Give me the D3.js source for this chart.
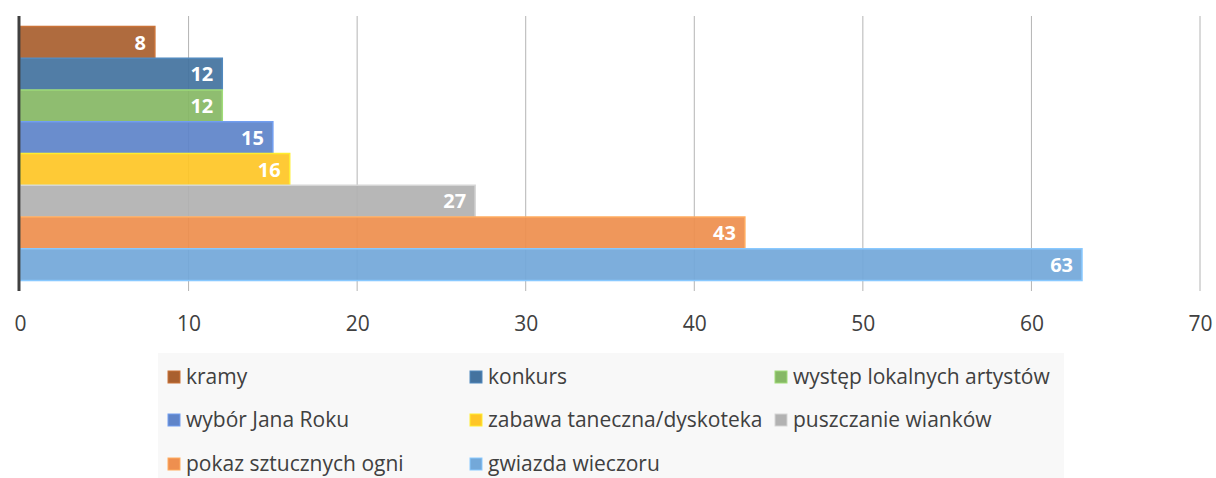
<!DOCTYPE html>
<html>
<head>
<meta charset="utf-8">
<script src="https://cdn.jsdelivr.net/npm/d3@7"></script>
<style>
  body { margin: 0; background: #fff; }
  svg text { font-family: "Open Sans", sans-serif; }
</style>
</head>
<body>
<script>
// data
const categories = ['kramy', 'konkurs', 'występ lokalnych artystów', 'wybór Jana Roku',
    'zabawa taneczna/dyskoteka', 'puszczanie wianków', 'pokaz sztucznych ogni', 'gwiazda wieczoru']
const values = [8, 12, 12, 15, 16, 27, 43, 63]
const colors = ['#a9602f', '#44739f', '#86b865', '#5f84c9', '#fec627', '#b2b2b2', '#ee8f4f', '#73a8d9']
const ticks = [0, 10, 20, 30, 40, 50, 60, 70]

const width = 1216, height = 478
const svg = d3.select('body').append('svg')
    .attr('width', width)
    .attr('height', height)

let x = d3.scaleLinear().domain([0, 70]).range([20, 1200])
let y = d3.scaleBand().domain(categories).range([16, 291]).paddingOuter(0.33).paddingInner(0)

// gridlines
svg.append('g').selectAll('line')
    .data(ticks.slice(1)).enter()
    .append('line')
    .attr('x1', d => x(d)).attr('x2', d => x(d))
    .attr('y1', 16).attr('y2', 291)
    .attr('stroke', '#b4b4b4')
    .attr('stroke-width', 1)

// bars
svg.append('g').selectAll('rect')
    .data(values).enter()
    .append('rect')
    .attr('x', x(0))
    .attr('y', (d, i) => y(categories[i]))
    .attr('width', d => x(d) - x(0))
    .attr('height', y.bandwidth())
    .attr('fill', (d, i) => colors[i])
    .attr('fill-opacity', 0.93)
    .attr('stroke', (d, i) => d3.color(colors[i]).brighter(0.5))
    .attr('stroke-width', 1.5)

// value labels
svg.append('g').selectAll('text')
    .data(values).enter()
    .append('text')
    .attr('x', d => x(d) - 9)
    .attr('y', (d, i) => y(categories[i]) + y.bandwidth() / 2)
    .attr('dy', '0.36em')
    .attr('text-anchor', 'end')
    .attr('fill', '#fff')
    .attr('font-weight', 'bold')
    .attr('font-size', 20)
    .text(d => d)

// vertical axis line
svg.append('line')
    .attr('x1', 19).attr('x2', 19)
    .attr('y1', 16).attr('y2', 291)
    .attr('stroke', '#404040')
    .attr('stroke-width', 3)

// x axis labels
let xAxis = svg.append('g')
    .attr('transform', 'translate(0,316)')
    .call(d3.axisBottom(x).tickValues(ticks).tickSize(0).tickPadding(0))
xAxis.select('.domain').remove()
xAxis.selectAll('text')
    .attr('font-size', 21)
    .attr('fill', '#404040')
    .attr('font-family', null)

// legend
let legend = svg.append('g')
legend.append('rect')
    .attr('x', 158).attr('y', 353)
    .attr('width', 906).attr('height', 125)
    .attr('fill', '#f8f8f8')

const colX = [168, 470, 775]
const rowY = [377, 420, 464]
let item = legend.selectAll('.item')
    .data(categories).enter()
    .append('g')
    .attr('class', 'item')
    .attr('transform', (d, i) => `translate(${colX[i % 3]},${rowY[Math.floor(i / 3)]})`)
item.append('rect')
    .attr('x', 0).attr('y', -6)
    .attr('width', 12).attr('height', 12)
    .attr('fill', (d, i) => colors[i])
    .attr('stroke', (d, i) => d3.color(colors[i]).brighter(0.5))
    .attr('stroke-width', 1)
item.append('text')
    .attr('x', 18)
    .attr('dy', '0.35em')
    .attr('font-size', 21)
    .attr('fill', '#404040')
    .text(d => d)
</script>
</body>
</html>
